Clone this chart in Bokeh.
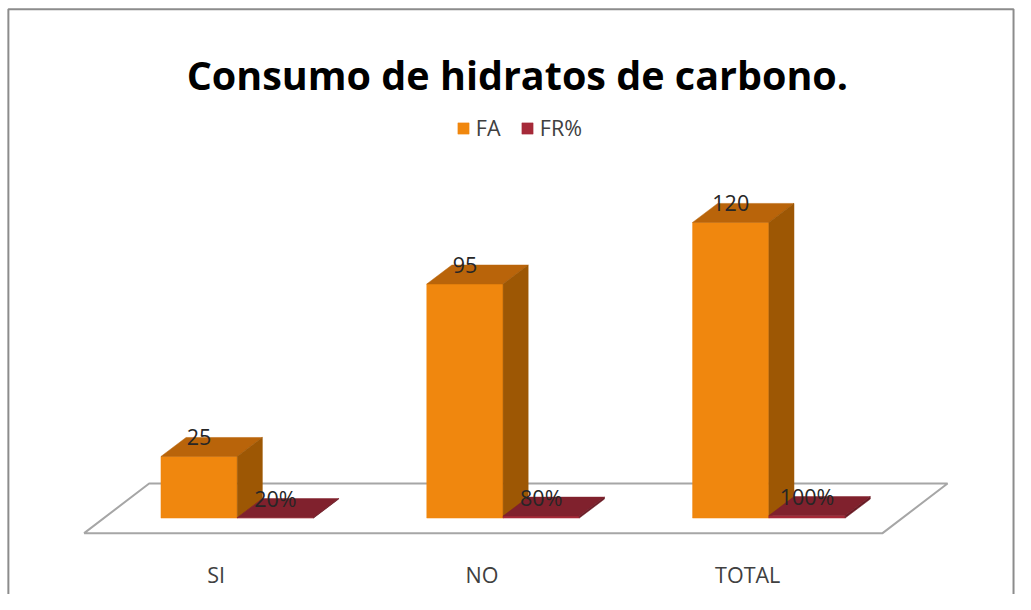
from bokeh.plotting import figure
from bokeh.models import Range1d, ColumnDataSource, Legend, LegendItem
from bokeh.core.properties import value
from bokeh.embed import file_html
from bokeh.resources import INLINE

# ---------------- data ----------------
title_text = "Consumo de hidratos de carbono."
categories = ["SI", "NO", "TOTAL"]
series_names = ["FA", "FR%"]
fa_values = [25, 95, 120]
fr_values = [0.20, 0.80, 1.00]
fr_labels = ["20%", "80%", "100%"]

# ---------------- layout / style ----------------
REF_W, REF_H = 1031, 610
FIG_W, FIG_H = 1015, 594
SX, SY = FIG_W / REF_W, FIG_H / REF_H
X0, XS = 240.5, 270.0      # ref-pixel x of category junction, px per category
Y0, YS = 531.5, 2.53       # ref-pixel y of value 0, px per unit

def px2x(px):
    return (px - X0) / XS

def py2v(py):
    return (Y0 - py) / YS

BW = 77.5 / XS             # bar front width (category units)
DX = 25.5 / XS             # depth offset x
DY = 19.5 / YS             # depth offset y (value units)

FA_FRONT, FA_TOP, FA_SIDE = "#F0870E", "#B9640A", "#9D5704"
FR_FRONT, FR_TOP, FR_SIDE = "#A62A39", "#80212D", "#6A1B25"
TEXT_COL = "#262626"
AXIS_COL = "#404040"
FONT = "Open Sans"
FS = "21.5px"

p = figure(width=FIG_W, height=FIG_H, output_backend="svg", toolbar_location=None,
           x_range=Range1d(px2x(0), px2x(REF_W)),
           y_range=Range1d(py2v(REF_H), py2v(0)),
           min_border=0, x_axis_location=None, y_axis_location=None)
p.xgrid.visible = False
p.ygrid.visible = False
p.outline_line_color = None
p.background_fill_color = "white"
p.border_fill_color = "white"

# chart border (left / top / right)
p.line([px2x(8), px2x(8), px2x(1029), px2x(1029)],
       [py2v(615), py2v(9), py2v(9), py2v(615)],
       line_color="#8C8C8C", line_width=2)

# floor (3D plot base)
floor_x = [px2x(85), px2x(896), px2x(962), px2x(151)]
floor_y = [py2v(547), py2v(547), py2v(496), py2v(496)]
p.patch(floor_x, floor_y, fill_color="white", line_color="#A6A6A6", line_width=2)

idx = list(range(len(categories)))

def faces(left_list, vals):
    right = [l + BW for l in left_list]
    top_xs, top_ys, side_xs, side_ys = [], [], [], []
    for l, r, v in zip(left_list, right, vals):
        top_xs.append([l, r, r + DX, l + DX])
        top_ys.append([v, v, v + DY, v + DY])
        side_xs.append([r, r + DX, r + DX, r])
        side_ys.append([0, DY, v + DY, v])
    return right, top_xs, top_ys, side_xs, side_ys

# FA bars
fa_left = [i - BW for i in idx]
fa_right, fa_txs, fa_tys, fa_sxs, fa_sys = faces(fa_left, fa_values)
fa_front = p.quad(left=fa_left, right=fa_right, bottom=[0] * len(idx), top=fa_values,
                  fill_color=FA_FRONT, line_color=FA_FRONT, line_width=0.5)
p.patches(fa_txs, fa_tys, fill_color=FA_TOP, line_color=FA_TOP, line_width=0.5)
p.patches(fa_sxs, fa_sys, fill_color=FA_SIDE, line_color=FA_SIDE, line_width=0.5)

# FR% bars
fr_left = [float(i) for i in idx]
fr_right, fr_txs, fr_tys, fr_sxs, fr_sys = faces(fr_left, fr_values)
fr_front = p.quad(left=fr_left, right=fr_right, bottom=[0] * len(idx), top=fr_values,
                  fill_color=FR_FRONT, line_color=FR_FRONT, line_width=0.5)
p.patches(fr_txs, fr_tys, fill_color=FR_TOP, line_color=FR_TOP, line_width=0.5)
p.patches(fr_sxs, fr_sys, fill_color=FR_SIDE, line_color=FR_SIDE, line_width=0.5)

# value labels
fa_lab_src = ColumnDataSource(dict(x=[l + BW / 2 for l in fa_left],
                                   y=[v + DY for v in fa_values],
                                   t=[str(v) for v in fa_values]))
p.text(x="x", y="y", text="t", source=fa_lab_src, text_font=value(FONT),
       text_font_size=FS, text_color=TEXT_COL, text_align="center",
       text_baseline="alphabetic")
fr_lab_src = ColumnDataSource(dict(x=[l + BW / 2 for l in fr_left],
                                   y=[v + DY for v in fr_values],
                                   t=fr_labels))
p.text(x="x", y="y", text="t", source=fr_lab_src, text_font=value(FONT),
       text_font_size=FS, text_color=TEXT_COL, text_align="center",
       text_baseline="alphabetic")

# category labels
cat_src = ColumnDataSource(dict(x=[i - 21.5 / XS for i in idx],
                                y=[py2v(589)] * len(idx), t=categories))
p.text(x="x", y="y", text="t", source=cat_src, text_font=value(FONT),
       text_font_size=FS, text_color=AXIS_COL, text_align="center",
       text_baseline="alphabetic")

# title
p.text(x=[px2x(525)], y=[py2v(77)], text=[title_text], text_font=value(FONT),
       text_font_size="39.5px", text_font_style="bold", text_color="black",
       text_align="center", text_baseline="alphabetic")

# legend (one single-item legend per series, placed side by side)
def make_legend(label, rend, ref_x):
    return Legend(items=[LegendItem(label=label, renderers=[rend])],
                  orientation="horizontal",
                  location=(ref_x * SX, FIG_H - 131.5 * SY - 14),
                  glyph_width=14, glyph_height=14, label_standoff=6, spacing=0,
                  padding=0, margin=0, border_line_alpha=0, background_fill_alpha=0,
                  label_text_font=FONT, label_text_font_size=FS,
                  label_text_color=AXIS_COL)

p.add_layout(make_legend(series_names[0], fa_front, 463))
p.add_layout(make_legend(series_names[1], fr_front, 528))

open("out.html", "w").write(file_html(p, INLINE))
